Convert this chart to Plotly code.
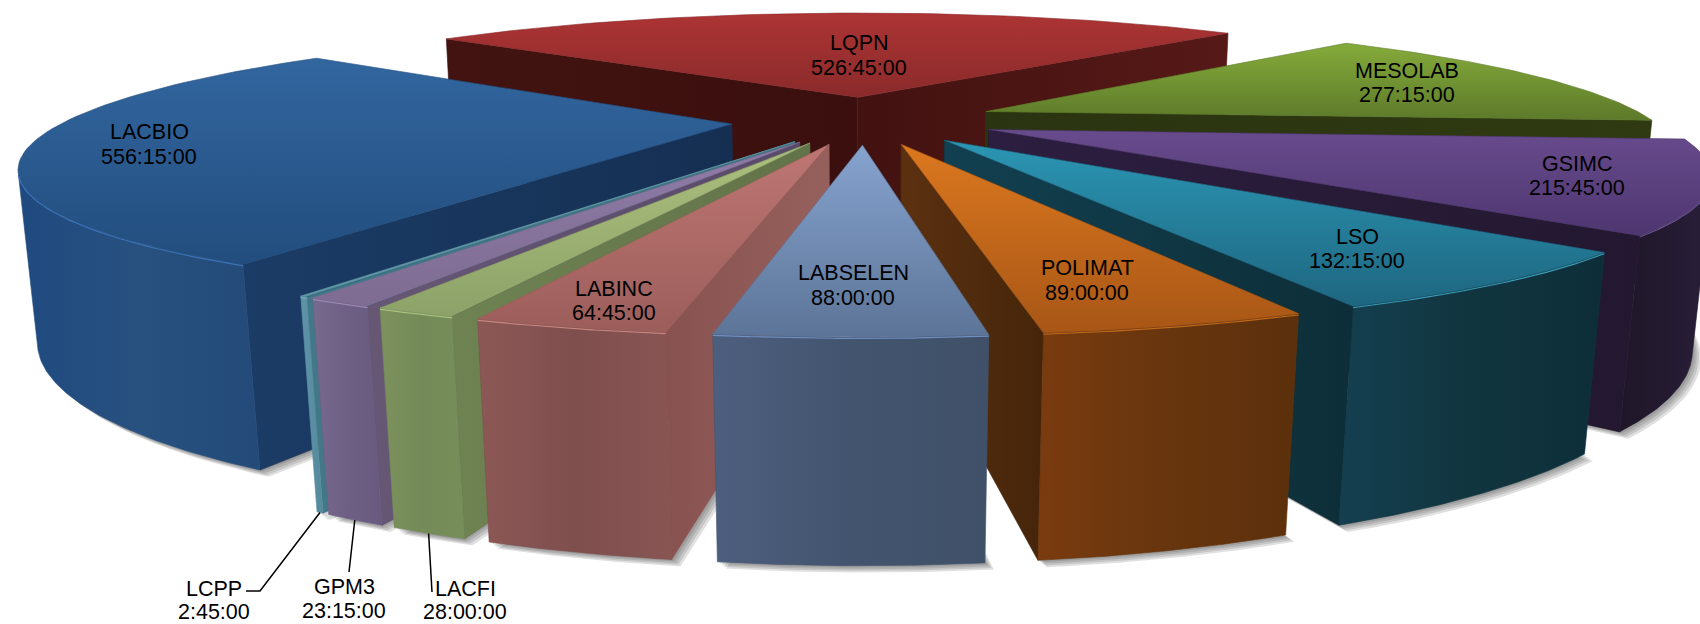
import math
import numpy as np
import plotly.graph_objects as go

# ---------- data ----------
labels = ["LQPN", "MESOLAB", "GSIMC", "LSO", "POLIMAT", "LABSELEN",
          "LABINC", "LACFI", "GPM3", "LCPP", "LACBIO"]
hours = [526.75, 277.25, 215.75, 132.25, 89.0, 88.0, 64.75, 28.0, 23.25, 2.75, 556.25]
value_text = ["526:45:00", "277:15:00", "215:45:00", "132:15:00", "89:00:00", "88:00:00",
              "64:45:00", "28:00:00", "23:15:00", "2:45:00", "556:15:00"]

# ---------- styles: (top-start, top-end), (rim-left, rim-mid, rim-right), (face-left, face-right), bevel ----------
styles = {
    "LQPN":     (("#AD3434", "#8A2A2B"), ("#5a1a18", "#521817", "#4a1513"), ("#3E1210", "#561917"), "#b04040"),
    "MESOLAB":  (("#85AB3B", "#5D7A2A"), ("#3a4a18", "#34421a", "#2f3a12"), ("#2A3410", "#2F3A12"), "#88aa40"),
    "GSIMC":    (("#684B8D", "#4E3670"), ("#1f1629", "#231a30", "#2a1f3a"), ("#2C1E40", "#231830"), "#6a5090"),
    "LSO":      (("#2B96B4", "#1E6680"), ("#143F50", "#11353F", "#0D2E38"), ("#124050", "#0D2E38"), "#3a9ab8"),
    "POLIMAT":  (("#DB781F", "#A85616"), ("#7A3B0F", "#67350E", "#5C300C"), ("#5C3110", "#45250A"), "#c06a1c"),
    "LABSELEN": (("#86A3CF", "#5C7497"), ("#4D5F7E", "#43546F", "#3F5068"), ("#4D5F7E", "#3F5068"), "#6f8fc0"),
    "LABINC":   (("#BE7673", "#9C5E5B"), ("#8C5856", "#7F4F4D", "#885553"), ("#875250", "#96605C"), "#c88582"),
    "LACFI":    (("#ABC07D", "#8DA268"), ("#7C915D", "#748A58", "#778D5A"), ("#6E8252", "#627349"), "#a8c080"),
    "GPM3":     (("#8F7CA8", "#7E6C92"), ("#786A8F", "#6E5F85", "#685A7E"), ("#665775", "#584A68"), "#9a88b0"),
    "LCPP":     (("#6AA2B0", "#5E95A3"), ("#5E93A8", "#5A8FA3", "#55889C"), ("#427888", "#3D7080"), "#7ab0c0"),
    "LACBIO":   (("#32669F", "#224D7E"), ("#1F4A80", "#28517F", "#234A78"), ("#1B3C66", "#152F52"), "#3a72b8"),
}
# faces that need their own colours: name -> (start-side face, end-side face)
face_overrides = {"LQPN": (("#421311", "#3A0F0D"), ("#421210", "#561917"))}
draw_order = ["LQPN", "MESOLAB", "GSIMC", "LACBIO", "LSO", "LCPP", "GPM3", "LACFI", "LABINC", "POLIMAT", "LABSELEN"]

# ---------- label layout (pixel positions of text lines) ----------
label_pos = {
    "LQPN": (859, 43, 68), "MESOLAB": (1407, 71, 95), "GSIMC": (1577, 164, 188),
    "LSO": (1357, 237, 261), "POLIMAT": (1087, 268, 293), "LABSELEN": (853, 273, 298),
    "LABINC": (614, 289, 313), "LACFI": (465, 589, 612), "GPM3": (344, 587, 611),
    "LCPP": (214, 589, 612), "LACBIO": (149, 132, 157),
}
leader_ends = {"LCPP": [(260, 591), (246, 591)], "GPM3": [(349, 572)], "LACFI": [(432, 592)]}

# ---------- camera / pie geometry ----------
first_angle = -50.2
explode = 0.20
CX, CY, AX, BY, CZ, K, M = 864.0, 119.8, 664.6, 119.3, 160.2, 0.284, 0.021
cam_y = -1 / (K + M * BY / CZ)


def project(X, Y, d):
    X, Y = np.asarray(X, float), np.asarray(Y, float)
    w = 1 + K * Y + M * d
    return CX + AX * X / w, CY - (BY * Y - CZ * d) / w


total = sum(hours)
slices = {}
cum = first_angle
for name, h in zip(labels, hours):
    a0 = cum
    a1 = cum + h / total * 360
    cum = a1
    mid = math.radians((a0 + a1) / 2)
    slices[name] = dict(a0=math.radians(a0), a1=math.radians(a1),
                        ox=explode * math.sin(mid), oy=explode * math.cos(mid))

fig = go.Figure()


def poly(px, py, colors=None, kind="vertical", solid=None):
    px, py = list(px), list(py)
    kw = dict(x=px + px[:1], y=py + py[:1], mode="lines", fill="toself",
              line=dict(width=0.6, color=solid or colors[len(colors) // 2]),
              hoverinfo="skip", showlegend=False)
    if solid:
        kw["fillcolor"] = solid
        kw["line"] = dict(width=0)
    else:
        vals = py if kind == "vertical" else px
        lo, hi = min(vals), max(vals)
        steps = np.linspace(0, 1, len(colors))
        kw["fillgradient"] = dict(type=kind, start=lo, stop=hi,
                                  colorscale=[[float(s), c] for s, c in zip(steps, colors)])
    fig.add_trace(go.Scatter(**kw))


def arc(s, d, a0=None, a1=None, n=70):
    a0 = s["a0"] if a0 is None else a0
    a1 = s["a1"] if a1 is None else a1
    t = np.linspace(a0, a1, n)
    return project(s["ox"] + np.sin(t), s["oy"] + np.cos(t), d)


# ground shadow
for i in range(1, 5):
    for name in draw_order:
        s = slices[name]
        ax, ay = arc(s, 1.0)
        qx, qy = project([s["ox"]], [s["oy"]], 1.0)
        px = np.concatenate([qx, ax]) + i * 2.2
        py = np.concatenate([qy, ay]) + i * 1.7
        poly(px, py, solid="rgba(60,60,60,0.16)")

# slices
for name in draw_order:
    s = slices[name]
    top, rim, face, bevel = styles[name]
    a0, a1, ox, oy = s["a0"], s["a1"], s["ox"], s["oy"]
    rel = (0 - ox, cam_y - oy)
    start_face, end_face = face_overrides.get(name, (face, face))
    # radial faces (start face then end face), only when they turn to the camera
    for a, n, fc in ((a0, (-math.cos(a0), math.sin(a0)), start_face),
                     (a1, (math.cos(a1), -math.sin(a1)), end_face)):
        if rel[0] * n[0] + rel[1] * n[1] > 0:
            X = np.array([ox, ox + math.sin(a), ox + math.sin(a), ox])
            Y = np.array([oy, oy + math.cos(a), oy + math.cos(a), oy])
            D = np.array([0, 0, 1, 1.0])
            w = 1 + K * Y + M * D
            fx = CX + AX * X / w
            fy = CY - (BY * Y - CZ * D) / w
            poly(fx, fy, list(fc), "horizontal")
    # outer rim: visible part only
    t = np.linspace(a0, a1, 121)
    vis = t[(cam_y - (oy + np.cos(t))) * np.cos(t) + (0 - (ox + np.sin(t))) * np.sin(t) > 0]
    if len(vis) > 1:
        tx, ty = arc(s, 0.0, vis[0], vis[-1])
        bx, by = arc(s, 1.0, vis[0], vis[-1])
        rx = np.concatenate([tx, bx[::-1]])
        ry = np.concatenate([ty, by[::-1]])
        poly(rx, ry, list(rim), "horizontal")
    # top surface
    ax, ay = arc(s, 0.0)
    qx, qy = project([ox], [oy], 0.0)
    poly(np.concatenate([qx, ax]), np.concatenate([qy, ay]), list(top), "vertical")
    # bevel highlight along the front top edge
    if len(vis) > 1:
        tx, ty = arc(s, 0.006, vis[0], vis[-1])
        fig.add_trace(go.Scatter(x=tx, y=ty, mode="lines", line=dict(width=1.2, color=bevel),
                                 hoverinfo="skip", showlegend=False))

# leader lines, starting at the base of the slice
for name, ends in leader_ends.items():
    s = slices[name]
    mid = (s["a0"] + s["a1"]) / 2
    lx, ly = arc(s, 1.0, mid, mid, 1)
    fig.add_trace(go.Scatter(x=[float(lx[0])] + [p[0] for p in ends],
                             y=[float(ly[0])] + [p[1] for p in ends],
                             mode="lines", line=dict(color="black", width=1.5),
                             hoverinfo="skip", showlegend=False))

# text labels
for name, val in zip(labels, value_text):
    x, y1, y2 = label_pos[name]
    for txt, y in ((name, y1), (val, y2)):
        fig.add_annotation(x=x, y=y, text=txt, showarrow=False, xref="x", yref="y",
                           xanchor="center", yanchor="middle",
                           font=dict(family="Liberation Sans, Arial, sans-serif", size=21.5, color="black"))

fig.update_layout(
    width=1700, height=624, margin=dict(l=0, r=0, t=0, b=0),
    paper_bgcolor="white", plot_bgcolor="white", showlegend=False, hovermode=False,
    xaxis=dict(range=[0, 1700], visible=False, fixedrange=True),
    yaxis=dict(range=[624, 0], visible=False, fixedrange=True),
)
fig.write_html("out.html", config={"displayModeBar": False},
               post_script="document.body.style.margin='0';document.body.style.overflow='hidden';")
